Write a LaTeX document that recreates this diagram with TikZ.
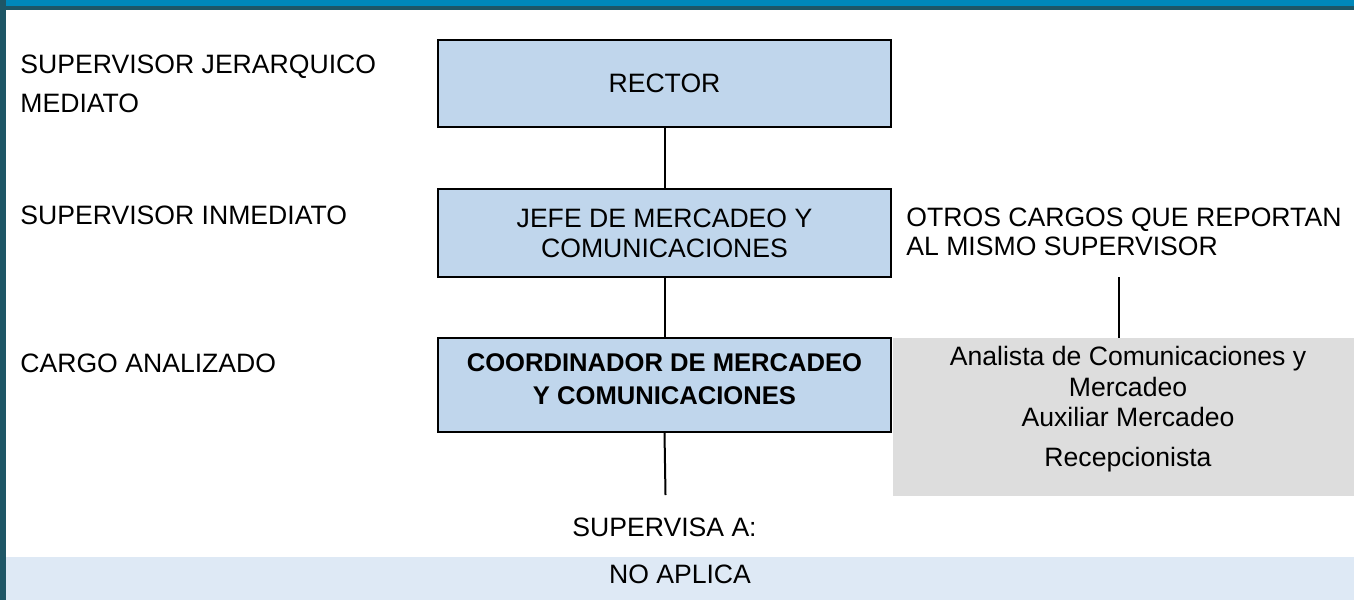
\documentclass[tikz,border=0pt]{standalone}
\usepackage{fontspec}
\setmainfont{Liberation Sans}
\usepackage{xcolor}
\usetikzlibrary{positioning, calc}
\definecolor{cTop}{RGB}{0,136,186}
\definecolor{cFrame}{RGB}{30,86,102}
\definecolor{cBox}{RGB}{192,214,236}
\definecolor{cGray}{RGB}{221,221,221}
\definecolor{cBand}{RGB}{222,233,245}
\tikzset{
	cargo/.style={rectangle, draw=black, line width=1pt, fill=cBox, minimum width=226.5pt, text centered, align=center},
	rotulo/.style={anchor=west, align=left, inner sep=0pt},
	conector/.style={draw=black, line width=1pt},
}

\begin{document}
\begin{tikzpicture}[x=0.5pt, y=-0.5pt, font=\fontsize{13.3}{15}\selectfont]
	\useasboundingbox (0,0) rectangle (1354,600);
	% frame and bands
	\fill[cTop] (0,0) rectangle (1354,6);
	\fill[cFrame] (0,6) rectangle (1354,10);
	\fill[cFrame] (0,0) rectangle (6,600);
	\fill[cBand] (6,557) rectangle (1354,600);
	% left labels
	\node[rotulo, font=\fontsize{13.3}{19.25}\selectfont] (lMediato) at (20,83.75) {SUPERVISOR JERARQUICO\\MEDIATO};
	\node[rotulo] (lInmediato) at (20,215) {SUPERVISOR INMEDIATO};
	\node[rotulo] (lCargo) at (20,363) {CARGO ANALIZADO};
	% other positions
	\node[fill=cGray, minimum width=230.5pt, minimum height=79pt, inner sep=0pt] (otros) at (1123.5,417) {};
	\node[align=center, font=\fontsize{13.3}{15.25}\selectfont] (otrosTxt) at (1128,409) {Analista de Comunicaciones y\\Mercadeo\\Auxiliar Mercadeo\\[4.5pt]Recepcionista};
	\node[rotulo, font=\fontsize{13.3}{14.75}\selectfont] (lOtros) at (906,231.75) {OTROS CARGOS QUE REPORTAN\\AL MISMO SUPERVISOR};
	% chart boxes
	\node[cargo, minimum height=43.5pt] (rector) at (664.5,83.5) {RECTOR};
	\node[cargo, minimum height=44pt] (jefe) at (664.5,233) {JEFE DE MERCADEO Y\\COMUNICACIONES};
	\node[cargo, minimum height=47pt, font=\fontsize{12.8}{16.75}\selectfont\bfseries] (coord) at (664.5,385) {};
	\node[align=center, font=\fontsize{12.8}{16.75}\selectfont\bfseries] (coordTxt) at (664.5,379) {COORDINADOR DE MERCADEO\\Y COMUNICACIONES};
	% bottom
	\node (lSupervisa) at (664.5,527.5) {SUPERVISA A:};
	\node (noAplica) at (680,574) {NO APLICA};
	\coordinate (supEnd) at (665.5,495);
	\coordinate (otrosTop) at (1118.5,277);
	% connectors
	\draw[conector] (rector.south) -- (jefe.north);
	\draw[conector] (jefe.south) -- (coord.north);
	\draw[conector] (coord.south) -- (supEnd);
	\draw[conector] (otrosTop) -- (otrosTop |- otros.north);
\end{tikzpicture}
\end{document}
